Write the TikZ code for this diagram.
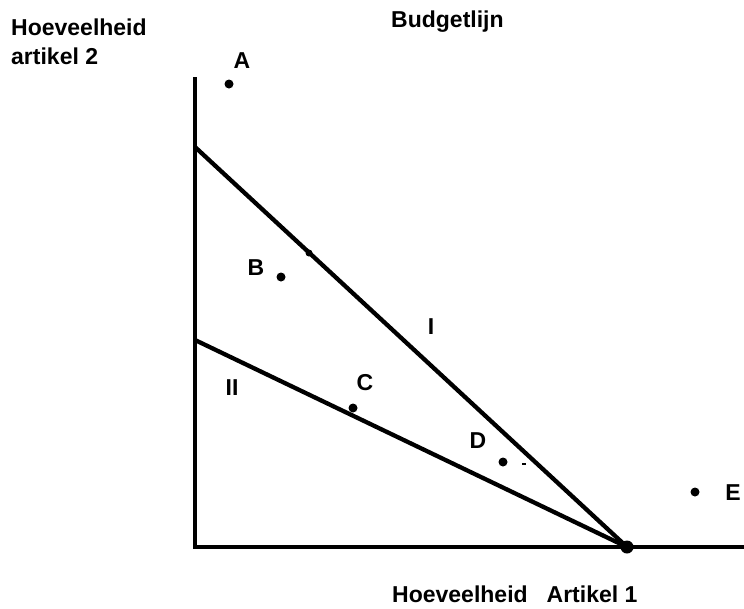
\documentclass[tikz,border=0pt]{standalone}
\usepackage{fontspec}
\setmainfont{Liberation Sans}
\begin{document}
\begin{tikzpicture}[x=1pt,y=-1pt,
  lbl/.style={inner sep=0pt, font=\fontsize{23}{27}\selectfont\bfseries},
  ptdot/.style={circle, fill=black, inner sep=0pt, minimum size=9pt},
  bigdot/.style={circle, fill=black, inner sep=0pt, minimum size=13pt},
  axisline/.style={line width=3.3pt},
  budget/.style={line width=4.3pt}]
\useasboundingbox (0,0) rectangle (744,608);
% axes
\coordinate (ytop) at (195,77);
\coordinate (orig) at (195,547);
\coordinate (xend) at (744,547);
\coordinate (i0) at (195,147);
\coordinate (ii0) at (195,340);
\node[bigdot] (X) at (627,547) {};
\draw[axisline] (ytop) -- (orig) -- (xend);
\draw[budget] (i0) -- (X.center);
\draw[budget] (ii0) -- (X.center);
% small marks
\node[circle, fill=black, inner sep=0pt, minimum size=7pt] (tick) at (309,253) {};
\node[fill=black, inner sep=0pt, minimum width=4pt, minimum height=1.5pt] (dash) at (524,464) {};
% points
\node[ptdot] (pA) at (229,84) {};
\node[ptdot] (pB) at (281,277) {};
\node[ptdot] (pC) at (353,408) {};
\node[ptdot] (pD) at (503,462) {};
\node[ptdot] (pE) at (695,492) {};
% point labels
\node[lbl] (lA) at (242,61) {A};
\node[lbl] (lB) at (256,268) {B};
\node[lbl] (lC) at (365,383) {C};
\node[lbl] (lD) at (478,441) {D};
\node[lbl] (lE) at (733,493) {E};
\node[lbl] (lI) at (431,327) {I};
\node[lbl] (lII) at (232,388) {II};
% titles
\node[lbl, anchor=base west] (ylab1) at (11,35) {Hoeveelheid};
\node[lbl, anchor=base west] (ylab2) at (11,64) {artikel 2};
\node[lbl, anchor=base west] (title) at (391,27) {Budgetlijn};
\node[lbl, anchor=base west] (xlab) at (392,602) {Hoeveelheid\hspace{19pt}Artikel 1};
\end{tikzpicture}
\end{document}
